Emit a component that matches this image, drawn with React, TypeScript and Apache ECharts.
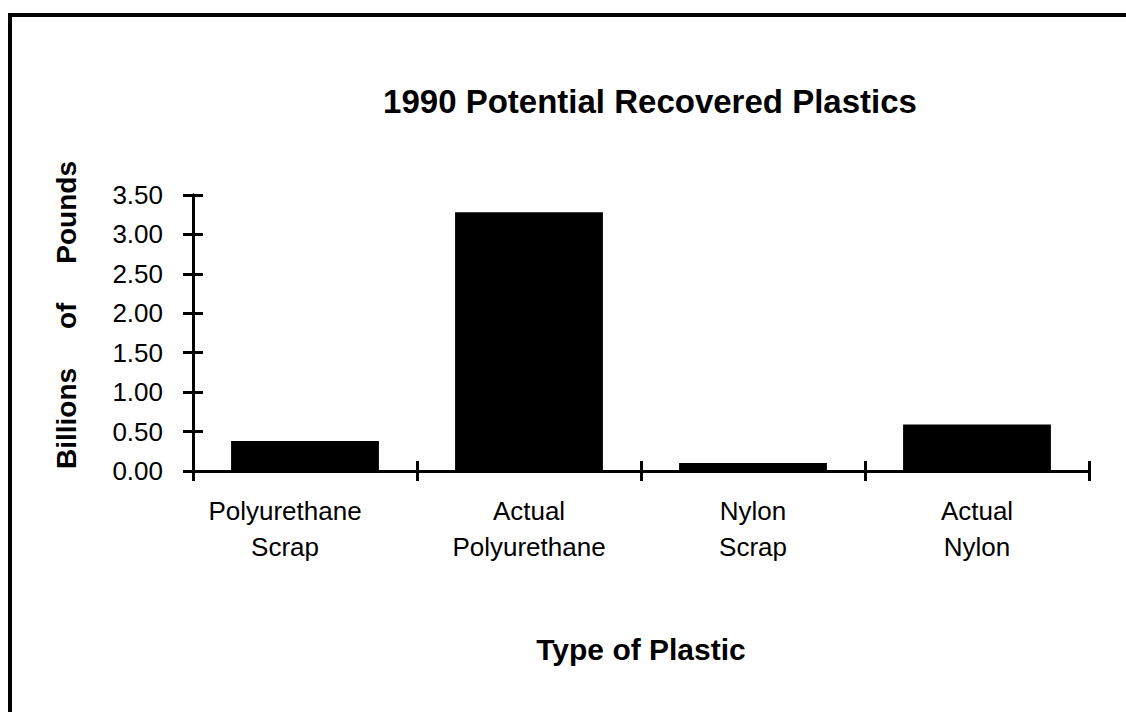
import React, { useEffect, useRef } from "react";
import * as echarts from "echarts";

const categories = ["Polyurethane\nScrap", "Actual\nPolyurethane", "Nylon\nScrap", "Actual\nNylon"];
const values = [0.38, 3.28, 0.1, 0.59];
const yTicks = { min: 0, max: 3.5, interval: 0.5 };
const titleText = "1990 Potential Recovered Plastics";
const xName = "Type of Plastic";
const yName = "Billions     of     Pounds";

const FONT = "'Liberation Sans', Arial, Helvetica, sans-serif";

export default function App() {
  const ref = useRef<HTMLDivElement>(null);
  useEffect(() => {
    if (!ref.current) return;
    const chart = echarts.init(ref.current, null, { renderer: "svg" });
    const axisLine = { show: true, lineStyle: { color: "#000", width: 3 } };
    const catData = categories.map((c, i) =>
      i === 0 ? { value: c, textStyle: { padding: [0, 40, 0, 0] } } : c
    );
    chart.setOption({
      animation: false,
      backgroundColor: "#fff",
      title: {
        text: titleText,
        left: 645,
        top: 80,
        textAlign: "center",
        textStyle: { fontFamily: FONT, fontSize: 33, fontWeight: "bold", color: "#000" },
      },
      grid: { left: 193, right: 37, top: 195, bottom: 241, containLabel: false },
      xAxis: [
        {
          type: "category",
          data: catData,
          axisLine,
          axisTick: { show: true, length: 10, lineStyle: { color: "#000", width: 3 } },
          axisLabel: {
            fontFamily: FONT,
            fontSize: 26,
            color: "#000",
            lineHeight: 36,
            margin: 22,
            interval: 0,
          },
          name: xName,
          nameLocation: "middle",
          nameGap: 163,
          nameTextStyle: { fontFamily: FONT, fontSize: 30, fontWeight: "bold", color: "#000" },
        },
        {
          type: "category",
          data: categories,
          position: "bottom",
          axisLine,
          axisTick: { show: true, inside: true, length: 10, lineStyle: { color: "#000", width: 3 } },
          axisLabel: { show: false },
        },
      ],
      yAxis: [
        {
          type: "value",
          min: yTicks.min,
          max: yTicks.max,
          interval: yTicks.interval,
          axisLine,
          splitLine: { show: false },
          axisTick: { show: true, length: 10, lineStyle: { color: "#000", width: 3 } },
          axisLabel: {
            fontFamily: FONT,
            fontSize: 26,
            color: "#000",
            margin: 30,
            formatter: (v: number) => v.toFixed(2),
          },
          name: yName,
          nameLocation: "middle",
          nameRotate: 90,
          nameGap: 113,
          nameTextStyle: {
            fontFamily: FONT,
            fontSize: 28,
            fontWeight: "bold",
            color: "#000",
            padding: [0, 0, 0, 36],
          },
        },
        {
          type: "value",
          position: "left",
          min: yTicks.min,
          max: yTicks.max,
          interval: yTicks.interval,
          axisLine,
          splitLine: { show: false },
          axisTick: { show: true, inside: true, length: 10, lineStyle: { color: "#000", width: 3 } },
          axisLabel: { show: false },
        },
      ],
      series: [
        {
          type: "bar",
          data: values,
          xAxisIndex: 0,
          yAxisIndex: 0,
          barWidth: "66%",
          itemStyle: { color: "#000" },
        },
      ],
      graphic: [
        { type: "line", shape: { x1: 8, y1: 15, x2: 1126, y2: 15 }, style: { stroke: "#000", lineWidth: 4 } },
        { type: "line", shape: { x1: 10, y1: 13, x2: 10, y2: 712 }, style: { stroke: "#000", lineWidth: 4 } },
      ],
    });
    return () => chart.dispose();
  }, []);
  return (
    <div
      ref={ref}
      style={{ position: "fixed", left: 0, top: 0, width: 1126, height: 712, background: "#fff" }}
    />
  );
}
